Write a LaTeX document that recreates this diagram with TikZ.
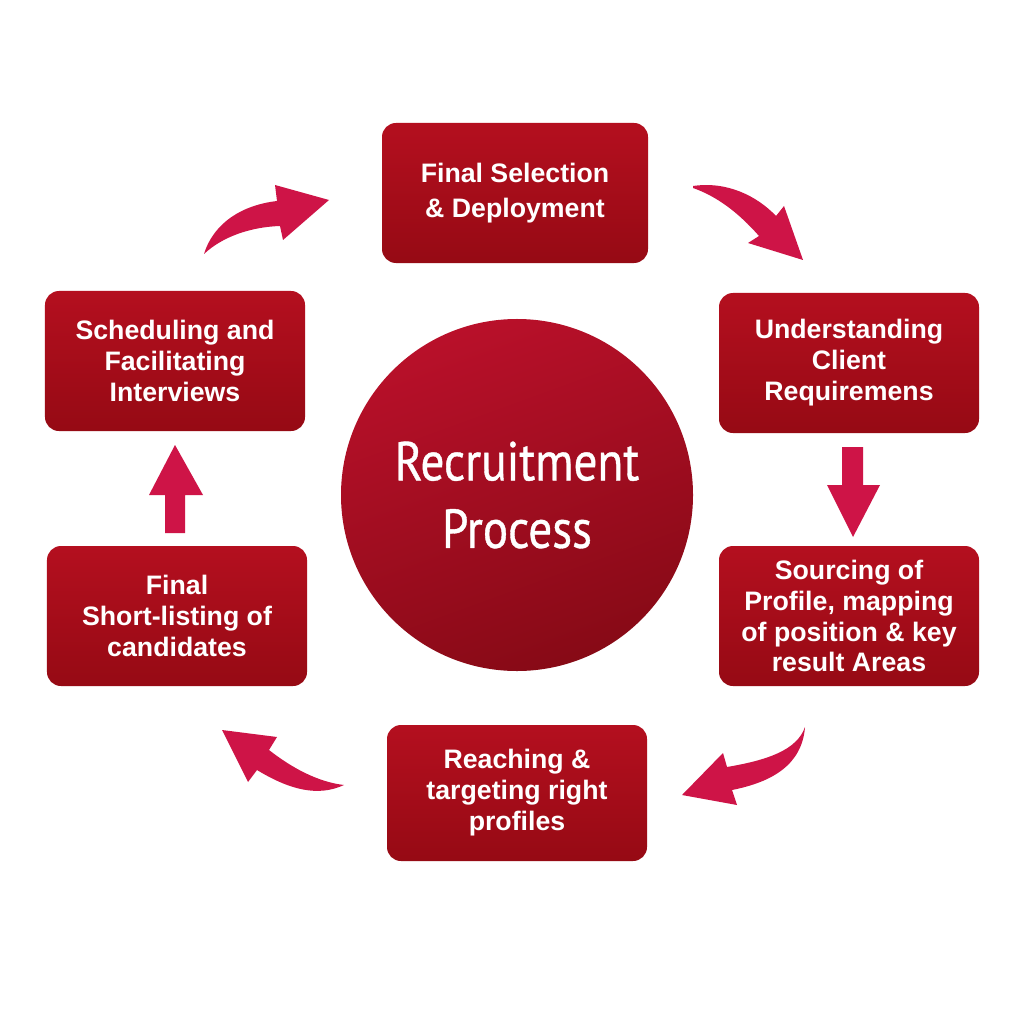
\documentclass[tikz,border=0pt]{standalone}
\usepackage{fontspec}
\setmainfont{Liberation Sans}
\newfontfamily\titlefont[FakeStretch=0.86, FakeBold=0.7]{PT Sans}
\usepackage{xcolor}
\usepackage{tikz}
\usetikzlibrary{shapes.geometric, positioning}

\definecolor{boxtop}{HTML}{B40F1F}
\definecolor{boxbot}{HTML}{960A14}
\definecolor{hubtop}{HTML}{B9102A}
\definecolor{hubbot}{HTML}{870A16}
\definecolor{arrowred}{HTML}{CE1447}

\begin{document}
\begin{tikzpicture}[
    x=0.25mm, y=-0.25mm,
    box/.style={rectangle, rounded corners=3.5mm, minimum width=65mm, minimum height=35mm, align=center, text=white, font=\fontsize{19}{22}\selectfont\bfseries, top color=boxtop, bottom color=boxbot, inner sep=2mm},
    hub/.style={circle, minimum size=88mm, top color=hubtop, bottom color=hubbot, shading angle=20, text=white, align=center, font=\titlefont\fontsize{39}{48}\selectfont},
    fatarrow/.style={fill=arrowred, draw=none}
]

% page frame
\fill[white] (0,0) rectangle (1024,1024);
\useasboundingbox (0,0) rectangle (1024,1024);

% ==================== CENTRE ====================
\node[hub] (hub) at (517,495) {Recruitment\\Process};

% ==================== STAGES ====================
\node[box, minimum width=66.5mm, font=\fontsize{19}{25}\selectfont\bfseries] (selection) at (515,193) {Final Selection\\\& Deployment};
\node[box] (client) at (849,363) {Understanding\\Client\\Requiremens};
\node[box] (sourcing) at (849,616) {Sourcing of\\Profile, mapping\\of position \& key\\result Areas};
\node[box, minimum height=34mm] (reaching) at (517,793) {Reaching \&\\targeting right\\profiles};
\node[box] (shortlist) at (177,616) {Final\\Short-listing of\\candidates};
\node[box] (interviews) at (175,361) {Scheduling and\\Facilitating\\Interviews};

% ==================== ARROWS ====================
% interviews -> selection
\fill[fatarrow] (204,254) .. controls (214,222) and (243,205) .. (277,201) -- (275,185) -- (329,200)
    -- (283,240) -- (280,226) .. controls (250,227) and (222,237) .. (204,254) -- cycle;
% selection -> client
\fill[fatarrow] (693,186) .. controls (727,181) and (757,196) .. (776,216) -- (784,206) -- (803,260)
    -- (748,243) -- (759,236) .. controls (738,212) and (716,196) .. (693,188) -- cycle;
% client -> sourcing
\fill[fatarrow] (842,447) -- (863,447) -- (863,485) -- (880,485) -- (853,537) -- (827,485) -- (842,485) -- cycle;
% sourcing -> reaching
\fill[fatarrow] (805,727) .. controls (797,750) and (768,760) .. (727,767) -- (723,753) -- (682,795)
    -- (737,805) -- (732,790) .. controls (772,782) and (802,765) .. (805,727) -- cycle;
% reaching -> shortlist
\fill[fatarrow] (222,730) -- (277,737) -- (269,750) .. controls (292,768) and (318,782) .. (344,785)
    .. controls (318,797) and (290,790) .. (257,770) -- (248,782) -- cycle;
% shortlist -> interviews
\fill[fatarrow] (175,445) -- (203,495) -- (185,495) -- (185,533) -- (165,533) -- (165,495) -- (149,495) -- cycle;

\end{tikzpicture}
\end{document}
